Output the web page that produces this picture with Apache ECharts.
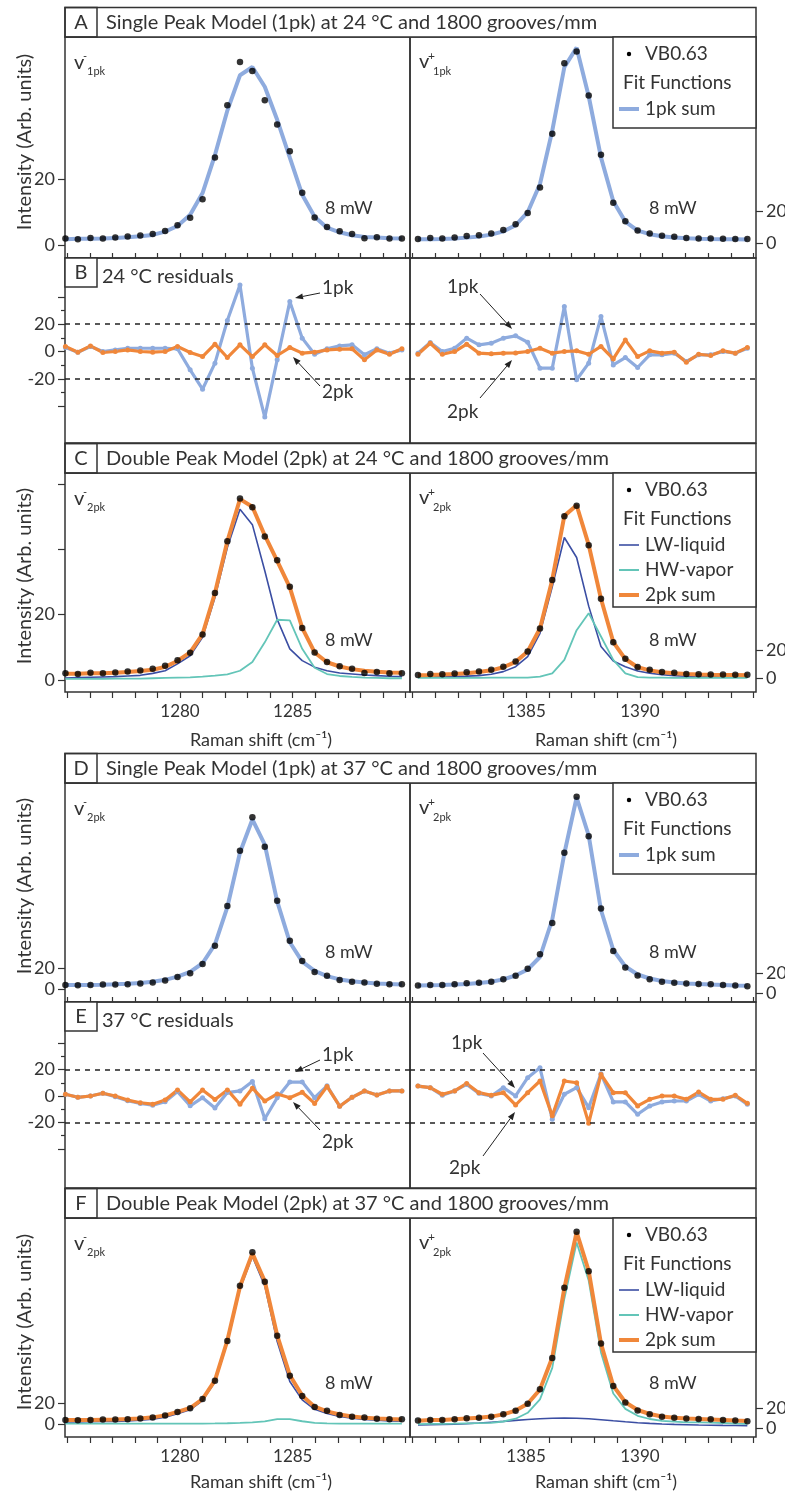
<!DOCTYPE html>
<html>
<head>
<meta charset="utf-8">
<script src="https://cdn.jsdelivr.net/npm/echarts@6/dist/echarts.min.js"></script>
<style>
html,body{margin:0;padding:0;background:#fff;}
#chart{width:785px;height:1495px;}
</style>
</head>
<body>
<div id="chart"></div>
<script>
// raman shift of every measured point (cm-1)
var xLeft = [1274.92, 1275.47, 1276.03, 1276.58, 1277.13, 1277.68, 1278.24, 1278.79, 1279.34, 1279.89, 1280.45, 1281.00, 1281.55, 1282.10,
  1282.66, 1283.21, 1283.76, 1284.31, 1284.87, 1285.42, 1285.97, 1286.52, 1287.08, 1287.63, 1288.18, 1288.73, 1289.29, 1289.84];
var xRight = [1380.25, 1380.79, 1381.32, 1381.86, 1382.39, 1382.93, 1383.47, 1384.00, 1384.54, 1385.07, 1385.61, 1386.15, 1386.68, 1387.22,
  1387.75, 1388.29, 1388.83, 1389.36, 1389.90, 1390.43, 1390.97, 1391.51, 1392.04, 1392.58, 1393.11, 1393.65, 1394.19, 1394.72];

// 24 C
var dotsL24 = [2.0, 1.8, 2.2, 2.0, 2.3, 2.6, 2.9, 3.4, 4.3, 6.0, 8.3, 13.9, 26.6, 42.4, 55.5, 52.8, 43.9, 36.6, 28.5, 15.9, 8.4, 5.5, 4.2, 3.4, 2.1, 2.4, 2.0, 2.0];
var fit1L24 = [1.8, 1.9, 1.9, 2.0, 2.2, 2.4, 2.7, 3.1, 4.1, 5.8, 9.2, 15.8, 27.3, 40.8, 51.5, 54.0, 48.0, 38.0, 26.5, 15.3, 8.6, 5.3, 3.9, 3.0, 2.5, 2.3, 2.1, 2.0];
var lwL24 = [0.6, 0.7, 0.8, 0.9, 1.0, 1.2, 1.4, 2.0, 2.8, 4.9, 7.4, 13.0, 25.2, 40.5, 52.2, 47.5, 33.4, 18.5, 9.5, 5.9, 3.9, 2.8, 2.1, 1.8, 1.5, 1.3, 1.1, 1.0];
var hwL24 = [0.3, 0.3, 0.3, 0.3, 0.4, 0.4, 0.4, 0.5, 0.6, 0.7, 0.8, 1.0, 1.3, 1.7, 2.8, 5.5, 11.5, 18.4, 18.2, 9.5, 3.7, 1.8, 1.2, 0.9, 0.7, 0.6, 0.5, 0.5];
var sum2L24 = [1.9, 1.9, 2.0, 2.0, 2.2, 2.4, 2.7, 3.1, 4.0, 5.8, 8.4, 14.0, 26.6, 42.4, 55.3, 53.0, 44.2, 36.4, 28.3, 15.9, 8.4, 5.4, 4.1, 3.3, 2.8, 2.5, 2.3, 2.2];
var res1L24 = [2.9, -0.5, 3.7, 0, 1.2, 2.4, 2.4, 2.4, 2.4, 2.0, -13.4, -27.6, -8.5, 22.7, 48.8, -12.2, -48.0, -6.1, 36.6, 9.8, -2.0, 2.0, 4.1, 4.9, -2.4, 2.0, -1.2, 1.2];
var res2L24 = [3.7, -0.5, 4.1, -0.7, 0, 1.2, 0, -0.5, 0, 3.7, -0.7, -3.7, 5.4, -4.4, 4.9, -3.7, 4.9, -2.9, 2.9, -1.2, -0.5, 1.2, 1.7, 2.0, -6.1, 1.2, -2.0, 2.0];

var dotsR24 = [2.4, 3.0, 2.8, 3.4, 4.3, 4.8, 6.0, 8.1, 11.8, 19.0, 35.2, 69.5, 114.6, 122.0, 94.0, 56.2, 25.5, 13.8, 7.9, 6.0, 4.5, 3.9, 3.0, 2.8, 2.7, 2.6, 2.5, 2.5];
var fit1R24 = [2.2, 2.3, 2.5, 2.8, 3.3, 4.0, 5.2, 7.3, 11.2, 19.5, 37.5, 71.5, 112.0, 124.5, 93.5, 54.5, 26.5, 13.5, 7.8, 5.5, 4.2, 3.4, 2.9, 2.6, 2.4, 2.3, 2.2, 2.1];
var lwR24 = [0.7, 0.8, 1.0, 1.2, 1.5, 1.9, 2.8, 4.7, 8.2, 15.3, 31.8, 64.7, 99.5, 85.4, 51.0, 22.4, 12.2, 8.2, 5.2, 3.5, 2.6, 1.9, 1.4, 1.2, 1.1, 1.0, 0.9, 0.8];
var hwR24 = [0.3, 0.3, 0.3, 0.3, 0.3, 0.3, 0.4, 0.4, 0.4, 0.5, 1.2, 3.5, 13.0, 34.0, 46.0, 29.5, 13.0, 3.5, 0.8, 0.5, 0.4, 0.3, 0.3, 0.3, 0.3, 0.3, 0.3, 0.3];
var sum2R24 = [2.1, 2.3, 2.6, 3.0, 3.6, 4.4, 5.6, 7.8, 11.6, 18.9, 35.2, 69.7, 114.8, 122.3, 94.3, 56.2, 25.6, 13.6, 7.8, 5.6, 4.3, 3.5, 3.0, 2.7, 2.5, 2.4, 2.3, 2.2];
var res1R24 = [-1.2, 6.6, 0, 2.4, 9.8, 4.9, 6.1, 9.8, 11.5, 6.8, -12.2, -12.2, 32.9, -20.7, -8.5, 25.6, -9.8, -4.4, -11.7, -2.4, -2.4, -1.2, -7.3, -2.4, -2.4, 0, -1.2, 2.4];
var res2R24 = [-2.0, 6.1, -2.0, 0, 5.4, -1.2, -1.7, -1.2, -1.0, 0, 2.4, -1.2, 0, 0.5, -2.0, 3.7, -5.4, 8.5, -3.7, 0.5, -1.2, -0.5, -7.8, -2.0, -2.9, 0.5, -1.2, 2.9];

// 37 C
var dotsL37 = [3.8, 3.6, 3.8, 4.2, 4.3, 4.5, 5.2, 6.2, 8.1, 11.5, 15.0, 23.8, 41.1, 79.0, 131.7, 163.5, 135.5, 84.0, 46.0, 26.7, 16.2, 12.7, 8.6, 7.0, 6.2, 5.1, 4.6, 4.4];
var fit1L37 = [3.7, 3.8, 3.9, 4.1, 4.4, 4.9, 5.6, 6.8, 8.7, 11.8, 16.3, 24.5, 42.5, 78.0, 130.0, 161.5, 137.5, 83.5, 44.5, 26.0, 17.3, 12.2, 9.1, 7.3, 6.1, 5.3, 4.7, 4.3];
var lwL37 = [2.0, 2.0, 2.1, 2.3, 2.5, 2.9, 3.5, 4.5, 6.4, 9.8, 13.5, 22.2, 40.0, 77.5, 128.5, 159.5, 131.5, 78.5, 40.5, 23.0, 14.0, 10.0, 7.2, 5.5, 4.4, 3.6, 3.0, 2.6];
var hwL37 = [0.3, 0.3, 0.3, 0.3, 0.3, 0.3, 0.3, 0.3, 0.3, 0.3, 0.3, 0.4, 0.5, 0.7, 1.0, 1.6, 2.4, 4.6, 4.6, 2.6, 1.0, 0.5, 0.3, 0.3, 0.3, 0.3, 0.3, 0.3];
var sum2L37 = [3.8, 3.8, 3.9, 4.1, 4.3, 4.7, 5.3, 6.3, 8.2, 11.6, 15.2, 23.8, 41.5, 79.5, 131.0, 162.5, 136.0, 84.5, 46.5, 27.0, 16.5, 12.0, 9.0, 7.2, 6.0, 5.2, 4.7, 4.3];
var res1L37 = [1.3, -1.0, 0, 2.1, -0.5, -3.6, -5.6, -6.9, -4.4, 3.3, -7.4, -1.3, -9.0, 2.6, 3.8, 11.0, -17.2, -1.3, 10.5, 10.5, -1.3, 7.7, -7.7, -1.0, 3.8, 0.8, 3.8, 3.8];
var res2L37 = [1.3, -1.0, 0, 2.1, 0, -3.1, -5.1, -6.2, -3.1, 4.6, -4.4, 4.6, -2.6, 4.6, -6.2, 5.9, -3.8, 1.5, -1.3, 2.8, -5.6, 7.2, -7.7, -1.0, 3.8, 0.8, 3.8, 3.8];

var dotsR37 = [7.6, 8.0, 8.0, 8.7, 9.7, 10.3, 11.3, 13.7, 17.3, 24.3, 38.7, 70.1, 140.3, 196.3, 156.8, 84.5, 42.0, 25.6, 17.6, 13.8, 11.3, 10.3, 9.5, 9.0, 8.7, 8.0, 7.6, 6.8];
var fit1R37 = [7.5, 7.8, 8.1, 8.5, 9.1, 10.0, 11.3, 13.6, 17.5, 23.5, 36.0, 73.5, 139.5, 195.5, 157.5, 83.0, 43.0, 26.5, 18.5, 14.5, 12.0, 10.6, 9.6, 8.9, 8.4, 8.0, 7.6, 7.3];
var lwR37 = [3.0, 3.2, 3.5, 3.9, 4.4, 5.0, 5.8, 6.6, 7.6, 8.5, 9.3, 9.8, 10.0, 9.8, 9.2, 8.3, 7.2, 6.2, 5.3, 4.6, 4.0, 3.6, 3.3, 3.0, 2.8, 2.6, 2.5, 2.4];
var hwR37 = [3.8, 4.2, 4.1, 4.3, 4.7, 4.8, 5.1, 6.5, 9.3, 15.2, 28.7, 60.2, 129.3, 185.5, 147.5, 75.6, 34.5, 19.1, 12.2, 9.0, 7.1, 6.3, 5.7, 5.6, 5.4, 5.0, 4.5, 4.2];
var sum2R37 = [7.3, 7.9, 8.1, 8.7, 9.6, 10.3, 11.4, 13.6, 17.4, 24.2, 38.5, 70.5, 139.8, 195.8, 157.2, 84.4, 42.2, 25.8, 18.0, 14.0, 11.5, 10.3, 9.4, 9.0, 8.6, 8.0, 7.4, 6.9];
var res1R37 = [7.5, 6.3, 0.5, 3.8, 8.8, 2.0, 0, 6.3, 0, 13.8, 21.3, -17.5, 1.3, 6.3, -8.8, 16.8, -4.5, -4.5, -13.8, -7.5, -4.5, -3.8, -3.8, 1.3, -3.8, -2.0, 0, -6.3];
var res2R37 = [7.5, 6.3, 1.3, 3.8, 9.5, 2.5, 0.5, 2.5, -6.8, 2.5, 11.3, -15.0, 11.3, 10.0, -20.5, 16.3, 2.5, 2.5, -7.5, -2.5, 0, 0, -2.5, 3.0, -2.5, -2.5, 0.5, -5.5];

// tick marks and labels
var tickL = [1275, 1276, 1277, 1278, 1279, 1280, 1281, 1282, 1283, 1284, 1285, 1286, 1287, 1288, 1289, 1290];
var labelL = [1280, 1285];
var tickR = [1380, 1381, 1382, 1383, 1384, 1385, 1386, 1387, 1388, 1389, 1390, 1391, 1392, 1393, 1394, 1395];
var labelR = [1385, 1390];
var intTicks = [0, 20];
var intTicksC = [0, 20, 40, 60];
var intLabels = [0, 20];
var resTicks = [-40, -20, 0, 20, 40];
var resMinor = [-30, -10, 10, 30];
var resLabels = [-20, 0, 20];
var resLimits = [20, -20];

var FONT = 'Lato, "Open Sans", sans-serif';
var INK = '#333';
var BLUE1 = '#8eabde', ORANGE = '#f0873a', NAVY = '#3b4ea3', TEAL = '#63c5b8';

var rows = [
  {top: 37, height: 221},   // A
  {top: 258, height: 185},  // B
  {top: 473, height: 219},  // C
  {top: 783, height: 219},  // D
  {top: 1002, height: 186}, // E
  {top: 1218, height: 219}  // F
];
var yRange = [
  [[-3.9, 63.1], [-9.7, 131.3]],
  [[-67, 68.5], [-67, 68.5]],
  [[-3.7, 63.3], [-9.7, 145.1]],
  [[-12.4, 196.2], [-9, 210]],
  [[-69.5, 71], [-69.5, 71]],
  [[-12.4, 196.2], [-9, 210]]
];

function plain(v) { return String(v); }

var grids = [], xAxes = [], yAxes = [], extraY = [];
for (var r = 0; r < 6; r++) {
  for (var c = 0; c < 2; c++) {
    var g = r * 2 + c;
    var isRes = (r === 1 || r === 4);
    var hasXLab = (r === 2 || r === 5);
    grids.push({
      left: c ? 410 : 65, top: rows[r].top, width: c ? 346 : 345, height: rows[r].height,
      show: true, borderColor: INK, borderWidth: 1.5, backgroundColor: 'transparent',
      containLabel: false, outerBoundsMode: 'none'
    });
    xAxes.push({
      gridIndex: g, type: 'value', min: c ? 1379.9 : 1274.9, max: c ? 1395.1 : 1290.2,
      axisLine: {show: false, onZero: false}, splitLine: {show: false},
      axisTick: {show: !isRes, inside: !hasXLab, length: hasXLab ? 6 : 5, customValues: c ? tickR : tickL,
        lineStyle: {color: INK, width: 1.2}},
      axisLabel: {show: hasXLab, customValues: c ? labelR : labelL, formatter: plain, margin: 11, fontSize: 17,
        color: INK, fontFamily: FONT}
    });
    var showY = !(isRes && c === 1);
    var ticks = isRes ? resTicks : (r === 2 && c === 0 ? intTicksC : intTicks);
    yAxes.push({
      gridIndex: g, type: 'value', position: c ? 'right' : 'left',
      min: yRange[r][c][0], max: yRange[r][c][1],
      axisLine: {show: false, onZero: false}, splitLine: {show: false},
      axisTick: {show: showY, length: 7, customValues: ticks, lineStyle: {color: INK, width: 1.2}},
      axisLabel: {show: showY, customValues: isRes ? resLabels : intLabels, formatter: plain, margin: 10,
        fontSize: 18, color: INK, fontFamily: FONT}
    });
    if (isRes && c === 0) {
      extraY.push({
        gridIndex: g, type: 'value', position: 'left', min: yRange[r][c][0], max: yRange[r][c][1],
        axisLine: {show: false, onZero: false}, splitLine: {show: false},
        axisTick: {show: true, length: 4, customValues: resMinor, lineStyle: {color: INK, width: 1.2}},
        axisLabel: {show: false}
      });
    }
  }
}
yAxes = yAxes.concat(extraY);

function pairs(xs, ys) {
  return xs.map(function (x, i) { return [x, ys[i]]; });
}
function dots(g, xs, ys) {
  return {type: 'scatter', xAxisIndex: g, yAxisIndex: g, data: pairs(xs, ys), symbolSize: 6.5,
    itemStyle: {color: '#000'}, z: 6, silent: true, clip: true};
}
function fit(g, xs, ys, color, width) {
  return {type: 'line', xAxisIndex: g, yAxisIndex: g, data: pairs(xs, ys), showSymbol: false,
    lineStyle: {color: color, width: width}, z: 3, silent: true, clip: true};
}
function res(g, xs, ys, color, dashed) {
  var s = {type: 'line', xAxisIndex: g, yAxisIndex: g, data: pairs(xs, ys), symbol: 'circle', symbolSize: 5,
    itemStyle: {color: color}, lineStyle: {color: color, width: 3.2}, z: 3, silent: true, clip: true};
  if (dashed) {
    s.markLine = {silent: true, symbol: ['none', 'none'], label: {show: false},
      lineStyle: {color: '#222', type: [5, 5], width: 1.5},
      data: resLimits.map(function (v) { return {yAxis: v}; })};
  }
  return s;
}

var series = [
  // A
  fit(0, xLeft, fit1L24, BLUE1, 4), dots(0, xLeft, dotsL24),
  fit(1, xRight, fit1R24, BLUE1, 4), dots(1, xRight, dotsR24),
  // B
  res(2, xLeft, res1L24, BLUE1, true), res(2, xLeft, res2L24, ORANGE),
  res(3, xRight, res1R24, BLUE1, true), res(3, xRight, res2R24, ORANGE),
  // C
  fit(4, xLeft, lwL24, NAVY, 1.6), fit(4, xLeft, hwL24, TEAL, 1.8), fit(4, xLeft, sum2L24, ORANGE, 4), dots(4, xLeft, dotsL24),
  fit(5, xRight, lwR24, NAVY, 1.6), fit(5, xRight, hwR24, TEAL, 1.8), fit(5, xRight, sum2R24, ORANGE, 4), dots(5, xRight, dotsR24),
  // D
  fit(6, xLeft, fit1L37, BLUE1, 4), dots(6, xLeft, dotsL37),
  fit(7, xRight, fit1R37, BLUE1, 4), dots(7, xRight, dotsR37),
  // E
  res(8, xLeft, res1L37, BLUE1, true), res(8, xLeft, res2L37, ORANGE),
  res(9, xRight, res1R37, BLUE1, true), res(9, xRight, res2R37, ORANGE),
  // F
  fit(10, xLeft, lwL37, NAVY, 1.6), fit(10, xLeft, hwL37, TEAL, 1.8), fit(10, xLeft, sum2L37, ORANGE, 4), dots(10, xLeft, dotsL37),
  fit(11, xRight, lwR37, NAVY, 1.6), fit(11, xRight, hwR37, TEAL, 1.8), fit(11, xRight, sum2R37, ORANGE, 4), dots(11, xRight, dotsR37)
];

// ---- annotations drawn with graphic elements
var gfx = [];
function rect(x, y, w, h, fill) {
  gfx.push({type: 'rect', z: 100, shape: {x: x, y: y, width: w, height: h},
    style: {fill: fill || 'none', stroke: INK, lineWidth: 1.5}});
}
function text(x, y, s, size, align, rot) {
  var el = {type: 'text', z: 101, x: x, y: y,
    style: {text: s, fontSize: size, fontFamily: FONT, fill: INK,
      textAlign: align || 'left', align: align || 'left', textVerticalAlign: 'middle', verticalAlign: 'middle'}};
  if (rot) el.rotation = rot;
  gfx.push(el);
}
function hline(x1, x2, y, color, w) {
  gfx.push({type: 'line', z: 101, shape: {x1: x1, y1: y, x2: x2, y2: y}, style: {stroke: color, lineWidth: w}});
}
function arrow(x1, y1, x2, y2) {
  var a = Math.atan2(y2 - y1, x2 - x1), L = 8, W = 3;
  var bx = x2 - L * Math.cos(a), by = y2 - L * Math.sin(a);
  gfx.push({type: 'line', z: 100, shape: {x1: x1, y1: y1, x2: bx, y2: by}, style: {stroke: '#222', lineWidth: 1}});
  gfx.push({type: 'polygon', z: 100, shape: {points: [[x2, y2], [bx - W * Math.sin(a), by + W * Math.cos(a)],
    [bx + W * Math.sin(a), by - W * Math.cos(a)]]}, style: {fill: '#222'}});
}

var headers = [
  {top: 37, letter: 'A', title: 'Single Peak Model (1pk) at 24 \u00b0C and 1800 grooves/mm'},
  {top: 473, letter: 'C', title: 'Double Peak Model (2pk) at 24 \u00b0C and 1800 grooves/mm'},
  {top: 783, letter: 'D', title: 'Single Peak Model (1pk) at 37 \u00b0C and 1800 grooves/mm'},
  {top: 1218, letter: 'F', title: 'Double Peak Model (2pk) at 37 \u00b0C and 1800 grooves/mm'}
];
headers.forEach(function (h) {
  rect(65, h.top - 29.5, 691, 29.5, '#fff');
  rect(65, h.top - 29.5, 32, 29.5);
  text(81, h.top - 14.5, h.letter, 20, 'center');
  text(106, h.top - 14.5, h.title, 20);
});

// residual panel labels
[{top: 258, letter: 'B', title: '24 \u00b0C residuals'}, {top: 1002, letter: 'E', title: '37 \u00b0C residuals'}].forEach(function (h) {
  rect(65, h.top, 32, 29, '#fff');
  text(81, h.top + 14.5, h.letter, 20, 'center');
  text(102, h.top + 19, h.title, 20);
});

// nu labels
var nu = [
  {top: 37, sub: '1pk'}, {top: 473, sub: '2pk'}, {top: 783, sub: '2pk'}, {top: 1218, sub: '2pk'}
];
nu.forEach(function (n) {
  text(74, n.top + 26, 'v', 20);
  text(83, n.top + 19, '-', 11);
  text(87, n.top + 34, n.sub, 11);
  text(419, n.top + 25, 'v', 20);
  text(428, n.top + 19, '+', 12);
  text(433, n.top + 34, n.sub, 11);
});

// power labels
[208, 640, 952, 1383].forEach(function (y) {
  text(325, y, '8 mW', 18);
  text(649, y, '8 mW', 18);
});

// legends
function legendBox(top, entries) {
  var h = entries.length > 1 ? 134 : 91;
  rect(613, top, 143, h, '#fff');
  gfx.push({type: 'circle', z: 101, shape: {cx: 629, cy: top + 17, r: 2.2}, style: {fill: '#000'}});
  text(645, top + 17, 'VB0.63', 19);
  text(623, top + 46, 'Fit Functions', 19);
  entries.forEach(function (e, i) {
    var y = top + 72 + i * 25;
    hline(619, 639, y, e.color, e.width);
    text(645, y, e.name, 19);
  });
}
var oneFit = [{name: '1pk sum', color: BLUE1, width: 4}];
var twoFit = [{name: 'LW-liquid', color: NAVY, width: 1.6}, {name: 'HW-vapor', color: TEAL, width: 2},
  {name: '2pk sum', color: ORANGE, width: 4}];
legendBox(37, oneFit);
legendBox(473, twoFit);
legendBox(783, oneFit);
legendBox(1218, twoFit);

// residual call-outs
text(322, 288, '1pk', 19); arrow(320, 293, 295, 298);
text(322, 392, '2pk', 19); arrow(320, 386, 293, 357);
text(447, 287, '1pk', 19); arrow(480, 294, 512, 329);
text(447, 412, '2pk', 19); arrow(480, 398, 512, 360);
text(322, 1055, '1pk', 19); arrow(320, 1060, 295, 1072);
text(322, 1142, '2pk', 19); arrow(320, 1130, 293, 1102);
text(451, 1043, '1pk', 19); arrow(483, 1053, 515, 1088);
text(449, 1168, '2pk', 19); arrow(483, 1156, 515, 1112);

// axis titles
[142, 576, 886, 1322].forEach(function (y) {
  text(25, y, 'Intensity (Arb. units)', 20, 'center', Math.PI / 2);
});
[740, 1482].forEach(function (y) {
  text(261, y, 'Raman shift (cm\u207b\u00b9)', 18, 'center');
  text(606, y, 'Raman shift (cm\u207b\u00b9)', 18, 'center');
});

var myChart = echarts.init(document.getElementById('chart'), null, {renderer: 'canvas'});
var option = {
  animation: false,
  backgroundColor: '#fff',
  textStyle: {fontFamily: FONT},
  grid: grids,
  xAxis: xAxes,
  yAxis: yAxes,
  series: series,
  graphic: {elements: gfx}
};
myChart.setOption(option);
window.addEventListener('resize', function () {
  myChart.resize();
});
</script>
</body>
</html>
